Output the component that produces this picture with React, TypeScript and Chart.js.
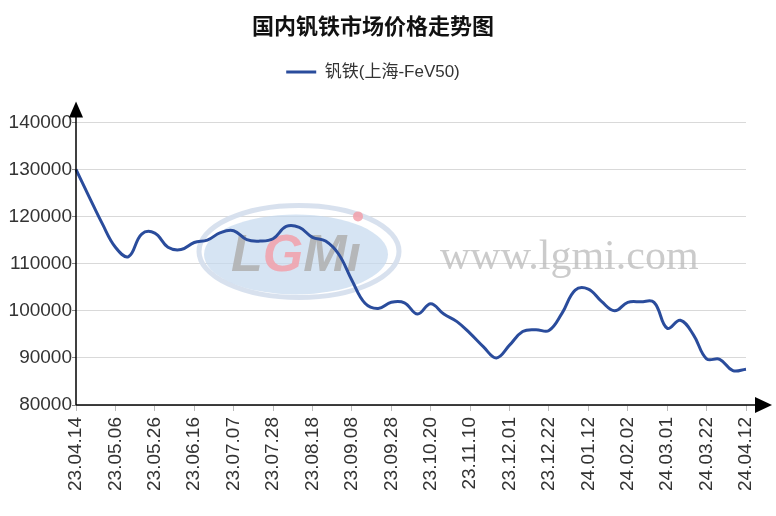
import { useEffect, useRef } from 'react';
import { Chart, registerables } from 'chart.js';

Chart.register(...registerables);

const TITLE = '国内钒铁市场价格走势图';
const SERIES_NAME = '钒铁(上海-FeV50)';
const tickLabels = [
  '23.04.14', '23.05.06', '23.05.26', '23.06.16', '23.07.07', '23.07.28',
  '23.08.18', '23.09.08', '23.09.28', '23.10.20', '23.11.10', '23.12.01',
  '23.12.22', '24.01.12', '24.02.02', '24.03.01', '24.03.22', '24.04.12',
];
const POINTS_PER_TICK = 3;
const prices = [
  130000, 124200, 118500, 113500, 111500, 116300, 116500, 113500, 113000, 114500,
  115000, 116600, 117000, 115100, 114800, 115300, 117900, 117700, 115600, 114800,
  112000, 106500, 101600, 100500, 101800, 101700, 99300, 101500, 99300, 97700,
  95200, 92400, 90000, 92700, 95600, 96000, 95800, 99500, 104400, 104600,
  102000, 100000, 101800, 101900, 101800, 96300, 98000, 94900, 89800, 89700,
  87300, 87600,
];
const Y_MIN = 80000;
const Y_MAX = 140000;
const Y_STEP = 10000;

const categories = prices.map((_, i) =>
  i % POINTS_PER_TICK === 0 ? tickLabels[i / POINTS_PER_TICK] ?? '' : ''
);

const LINE_COLOR = '#2a4c9c';
const FONT = "'Liberation Sans', Arial, 'Noto Sans CJK SC', sans-serif";

const legendSpacer = {
  id: 'legendSpacer',
  beforeLayout(chart: any) {
    const lg = chart.legend;
    if (lg && !lg.__patched) {
      const orig = lg.fit;
      lg.fit = function () {
        orig.call(this);
        this.height += 32;
      };
      lg.__patched = true;
    }
  },
};

const watermark = {
  id: 'watermark',
  beforeDatasetsDraw(chart: any) {
    const { ctx, chartArea } = chart;
    const { left, top } = chartArea;
    ctx.save();
    const cx = left + 220;
    const cy = top + 132;
    ctx.beginPath();
    ctx.ellipse(cx + 3, cy - 3, 100, 46, 0, 0, Math.PI * 2);
    ctx.strokeStyle = 'rgba(212,222,236,0.9)';
    ctx.lineWidth = 5;
    ctx.stroke();
    ctx.beginPath();
    ctx.ellipse(cx, cy, 92, 40, 0, 0, Math.PI * 2);
    ctx.fillStyle = 'rgba(196,216,238,0.7)';
    ctx.fill();
    ctx.font = "bold italic 52px 'Liberation Sans', Arial, sans-serif";
    ctx.textBaseline = 'alphabetic';
    const gray = 'rgba(175,175,175,0.85)';
    const pink = 'rgba(242,160,170,0.85)';
    const parts: [string, string][] = [
      ['L', gray],
      ['G', pink],
      ['M', gray],
      ['\u0131', gray],
    ];
    const total = parts.reduce((s, p) => s + ctx.measureText(p[0]).width, 0);
    let x = cx - total / 2;
    const baseY = cy + 17;
    for (const [t, c] of parts) {
      ctx.fillStyle = c;
      ctx.fillText(t, x, baseY);
      x += ctx.measureText(t).width;
    }
    ctx.beginPath();
    ctx.arc(cx + 62, cy - 38, 5, 0, Math.PI * 2);
    ctx.fillStyle = pink;
    ctx.fill();
    ctx.font = "42px 'Liberation Serif', 'Times New Roman', serif";
    ctx.fillStyle = 'rgba(185,185,185,0.75)';
    ctx.textAlign = 'left';
    ctx.fillText('www.lgmi.com', left + 364, top + 147);
    ctx.restore();
  },
};

const axesArrows = {
  id: 'axesArrows',
  afterDatasetsDraw(chart: any) {
    const { ctx, chartArea } = chart;
    const { left, right, top, bottom } = chartArea;
    ctx.save();
    ctx.strokeStyle = '#000';
    ctx.lineWidth = 1.5;
    ctx.beginPath();
    ctx.moveTo(left, bottom);
    ctx.lineTo(left, top - 18);
    ctx.stroke();
    ctx.beginPath();
    ctx.moveTo(left, bottom);
    ctx.lineTo(right + 14, bottom);
    ctx.stroke();
    ctx.fillStyle = '#000';
    ctx.beginPath();
    ctx.moveTo(left, top - 21);
    ctx.lineTo(left - 7, top - 5);
    ctx.lineTo(left + 7, top - 5);
    ctx.closePath();
    ctx.fill();
    ctx.beginPath();
    ctx.moveTo(right + 26, bottom);
    ctx.lineTo(right + 9, bottom - 8);
    ctx.lineTo(right + 9, bottom + 8);
    ctx.closePath();
    ctx.fill();
    ctx.restore();
  },
};

export default function App() {
  const ref = useRef<HTMLCanvasElement | null>(null);

  useEffect(() => {
    if (!ref.current) return;
    const chart = new Chart(ref.current, {
      type: 'line',
      data: {
        labels: categories,
        datasets: [
          {
            label: SERIES_NAME,
            data: prices,
            borderColor: LINE_COLOR,
            backgroundColor: LINE_COLOR,
            borderWidth: 3,
            pointRadius: 0,
            pointHoverRadius: 0,
            pointStyle: 'line',
            tension: 0.4,
            fill: false,
          },
        ],
      },
      options: {
        responsive: false,
        animation: false,
        layout: { padding: { left: 0, right: 30, top: 0, bottom: 0 } },
        plugins: {
          title: {
            display: true,
            text: TITLE,
            color: '#111',
            font: { family: "'Noto Sans CJK SC', sans-serif", size: 22, weight: 'bold' },
            padding: { top: 12, bottom: 15 },
          },
          legend: {
            display: true,
            position: 'top',
            labels: {
              usePointStyle: true,
              pointStyleWidth: 30,
              color: '#333',
              font: { family: FONT, size: 17 },
              padding: 10,
            },
          },
          tooltip: { enabled: false },
        },
        scales: {
          x: {
            type: 'category',
            offset: false,
            border: { display: false },
            grid: {
              display: true,
              drawOnChartArea: false,
              drawTicks: true,
              tickLength: 6,
              tickColor: '#bbb',
            },
            ticks: {
              autoSkip: false,
              minRotation: 90,
              maxRotation: 90,
              padding: 6,
              color: '#333',
              font: { family: FONT, size: 19 },
              callback: (_v: any, i: number) => (categories[i] ? categories[i] : null),
            },
            afterFit: (s: any) => {
              s.height = 111;
            },
          },
          y: {
            min: Y_MIN,
            max: Y_MAX,
            border: { display: false },
            grid: {
              color: '#d9d9d9',
              lineWidth: 1,
              tickLength: 4,
              tickColor: '#888',
            },
            ticks: {
              stepSize: Y_STEP,
              padding: 0,
              color: '#333',
              font: { family: FONT, size: 19 },
              callback: (v: any) => String(v),
            },
            afterFit: (s: any) => {
              s.width = 76;
            },
          },
        },
      },
      plugins: [legendSpacer, watermark, axesArrows],
    });
    return () => chart.destroy();
  }, []);

  return (
    <div style={{ position: 'fixed', left: 0, top: 0, width: 776, height: 516, background: '#fff' }}>
      <canvas ref={ref} width={776} height={516} />
    </div>
  );
}
